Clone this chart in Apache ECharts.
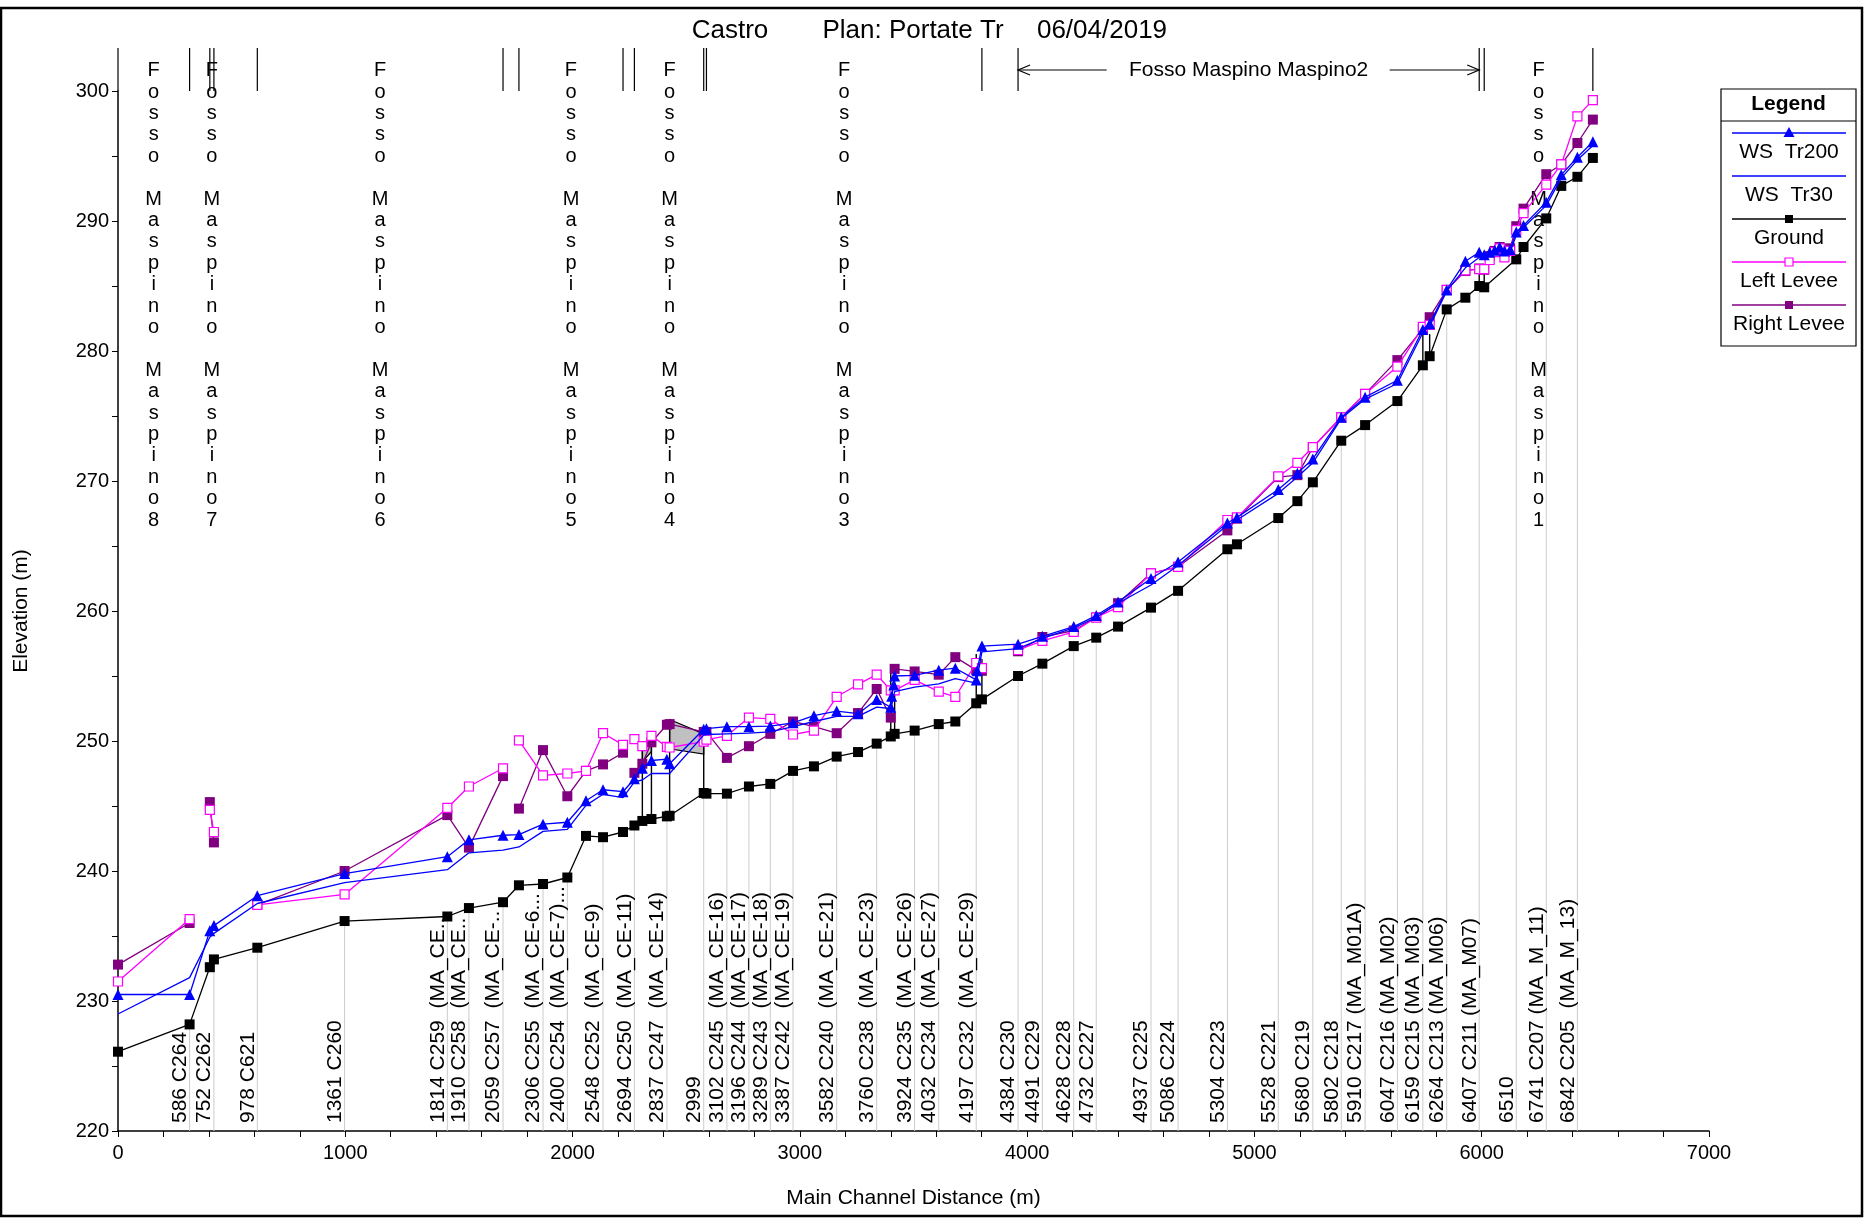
<!DOCTYPE html>
<html>
<head>
<meta charset="utf-8">
<title>Castro - Fosso Maspino</title>
<script src="https://cdn.jsdelivr.net/npm/echarts@6/dist/echarts.min.js"></script>
<style>
html, body { margin: 0; padding: 0; background: #fff; }
#chart { width: 1865px; height: 1224px; }
</style>
</head>
<body>
<div id="chart"></div>
<script>
// main channel distance of every cross section (m)
var stations = [0, 315, 404, 422, 613, 997, 1449, 1544, 1694, 1764, 1870, 1977, 2059, 2134, 2222,
  2272, 2307, 2347, 2415, 2427, 2577, 2589, 2679, 2776, 2870, 2970, 3062, 3162, 3256, 3338,
  3400, 3404, 3413, 3417, 3505, 3611, 3684, 3776, 3780, 3801, 3960, 4067, 4205, 4304, 4400,
  4545, 4664, 4881, 4923, 5105, 5189, 5257, 5382, 5487, 5629, 5741, 5771, 5846, 5928, 5989,
  6011, 6035, 6057, 6079, 6100, 6125, 6152, 6184, 6284, 6350, 6421, 6489];
// reach number (Fosso Maspino MaspinoN) of each section
var reach = [8, 8, 7, 7, 6, 6, 6, 6, 6, 5, 5, 5, 5, 5, 5,
  4, 4, 4, 4, 4, 4, 3, 3, 3, 3, 3, 3, 3, 3, 3,
  3, 3, 3, 3, 3, 3, 3, 3, 3, 3, 2, 2, 2, 2, 2,
  2, 2, 2, 2, 2, 2, 2, 2, 2, 2, 2, 2, 2, 2, 2,
  1, 1, 1, 1, 1, 1, 1, 1, 1, 1, 1, 1];
var ground = [226.1, 228.2, 232.6, 233.2, 234.1, 236.15, 236.5, 237.15, 237.6, 238.9, 239.0, 239.5, 242.7, 242.6, 243.0,
  243.5, 243.85, 244.0, 244.2, 244.25, 246.0, 245.95, 245.95, 246.5, 246.7, 247.7, 248.05, 248.8, 249.15, 249.8,
  250.35, null, null, 250.55, 250.8, 251.3, 251.5, 252.9, null, 253.2, 255.0, 255.95, 257.3, 257.95, 258.8,
  260.26, 261.55, 264.75, 265.13, 267.15, 268.45, 269.9, 273.1, 274.3, 276.15, 278.9, 279.6, 283.2, 284.1, 285.0,
  284.9, null, null, null, null, null, 287.05, 288.0, 290.2, 292.7, 293.4, 294.85];
var wsTr200 = [230.5, 230.5, 235.4, 235.8, 238.1, 239.8, 241.1, 242.4, 242.75, 242.8, 243.6, 243.75, 245.4, 246.25, 246.1,
  247.1, 247.9, 248.5, 248.6, 248.25, 250.9, 250.95, 251.1, 251.1, 251.15, 251.4, 251.95, 252.3, 252.1, 253.2,
  252.6, 253.45, 254.3, 255.0, 255.05, 255.45, 255.6, 254.7, 255.4, 257.3, 257.45, 258.05, 258.8, 259.65, 260.7,
  262.5, 263.77, 266.77, 267.2, 269.35, 270.6, 271.7, 274.9, 276.45, 277.75, 281.65, 282.1, 284.7, 286.9, 287.6,
  287.4, 287.6, 287.75, 288.0, 287.7, 287.8, 289.15, 289.65, 291.45, 293.55, 294.9, 296.1];
var wsTr30 = [229.0, 231.8, 234.9, 235.2, 237.5, 239.1, 240.1, 241.4, 241.6, 241.85, 243.05, 243.2, 245.05, 245.9, 245.65,
  246.85, 247.0, 247.5, 247.5, 247.5, 250.45, 250.5, 250.55, 250.6, 250.7, 251.1, 251.5, 251.9, 251.9, 252.6,
  252.5, null, null, 253.8, 254.15, 254.4, 254.8, 254.45, null, 256.85, 257.1, 257.9, 258.7, 259.5, 260.6,
  262.0, 263.5, 266.6, 267.0, 269.05, 270.3, 271.4, 274.8, 276.3, 277.5, 281.4, 281.9, 284.6, 286.4, 287.2,
  287.1, 287.3, 287.5, 287.8, 287.5, 287.6, 288.9, 289.5, 291.2, 293.3, 294.7, 295.8];
var leftLevee = [231.5, 236.3, 244.7, 243.0, 237.4, 238.2, 244.85, 246.5, 247.9, 250.05, 247.35, 247.5, 247.7, 250.6, 249.7,
  250.15, 249.6, 250.4, 249.55, 249.5, 249.95, 250.1, 250.4, 251.8, 251.7, 250.5, 250.8, 253.4, 254.35, 255.1,
  253.9, null, null, 253.9, 254.7, 253.8, 253.4, 256.0, null, 255.6, 257.0, 257.7, 258.4, 259.5, 260.3,
  262.9, 263.4, 267.0, 267.2, 270.35, 271.4, 272.6, 274.9, 276.7, 278.8, 281.85, 282.0, 284.7, 286.2, 286.3,
  286.3, 287.0, 287.6, 287.9, 287.2, 287.7, 289.3, 290.6, 292.8, 294.35, 298.05, 299.3];
var rightLevee = [232.8, 236.0, 245.3, 242.2, 237.4, 240.0, 244.3, 241.8, 247.3, 244.8, 249.3, 245.75, 247.7, 248.2, 249.1,
  247.55, 248.25, 249.9, 251.25, 251.3, 250.7, 250.7, 248.7, 249.6, 250.55, 251.5, 251.1, 250.6, 252.15, 254.0,
  251.8, null, null, 255.55, 255.35, 255.1, 256.45, 255.45, null, 255.4, 256.9, 258.0, 258.5, 259.5, 260.6,
  262.9, 263.4, 266.2, 267.1, 270.3, 270.45, 272.6, 274.9, 276.7, 279.3, 281.7, 282.6, 284.7, 286.15, 286.35,
  286.25, 287.3, 287.7, 288.0, 287.6, 287.9, 289.6, 290.95, 293.6, 294.35, 296.0, 297.8];
// river station labels written at the bottom ('' = not labelled)
var xsLabels = ['', '586 C264', '', '752 C262', '978 C621', '1361 C260', '1814 C259  (MA_CE..', '1910 C258  (MA_CE..',
  '2059 C257  (MA_CE-..', '', '2306 C255  (MA_CE-6...', '2400 C254  (MA_CE-7)...', '', '2548 C252  (MA_CE-9)', '',
  '2694 C250  (MA_CE-11)', '', '', '2837 C247  (MA_CE-14)', '', '2999', '', '3102 C245  (MA_CE-16)',
  '3196 C244  (MA_CE-17)', '3289 C243  (MA_CE-18)', '3387 C242  (MA_CE-19)', '', '3582 C240  (MA_CE-21)', '',
  '3760 C238  (MA_CE-23)', '', '', '', '', '3924 C235  (MA_CE-26)', '4032 C234  (MA_CE-27)', '',
  '4197 C232  (MA_CE-29)', '', '', '4384 C230', '4491 C229', '4628 C228', '4732 C227', '',
  '4937 C225', '5086 C224', '5304 C223', '', '5528 C221', '', '5680 C219', '5802 C218', '5910 C217 (MA_M01A)',
  '6047 C216 (MA_M02)', '6159 C215 (MA_M03)', '', '6264 C213 (MA_M06)', '', '6407 C211 (MA_M07)',
  '', '', '', '', '', '', '6510', '', '6741 C207 (MA_M_11)', '', '6842 C205  (MA_M_13)', ''];

// reach names and where they are written
var reachNames = ['Fosso Maspino Maspino8', 'Fosso Maspino Maspino7', 'Fosso Maspino Maspino6',
  'Fosso Maspino Maspino5', 'Fosso Maspino Maspino4', 'Fosso Maspino Maspino3', 'Fosso Maspino Maspino1'];
var reachNameX = [157, 413, 1153, 1993, 2427, 3195, 6250];
var reach2Name = 'Fosso Maspino Maspino2';
var reach2Span = [3960, 5989];
// reach limits marked above the plot
var reachLimits = [0, 315, 404, 422, 613, 1694, 1764, 2222, 2272, 2577, 2589, 3801, 3960, 5989, 6011, 6489];
// bridge faces: [station, top elevation]
var bridgeFaces = [[2307, 249.6], [2347, 250.1], [2427, 251.65], [2577, 250.4], [3400, 255.8], [3417, 255.8],
  [3776, 256.7], [3801, 256.3], [5741, 281.3], [5771, 281.3], [5989, 286.2], [6011, 286.2]];
// bridge decks: corner points [station, elevation]
var deckSmall = [[2307, 249.7], [2347, 250.2], [2347, 249.2], [2307, 248.4]];
var deckLarge = [[2427, 251.65], [2577, 250.55], [2577, 249.0], [2427, 249.4]];

var FONT = '"Liberation Sans", Arial, sans-serif';

function pairs(vals) {
  var out = [];
  for (var i = 0; i < stations.length; i++) {
    if (vals[i] != null) out.push([stations[i], vals[i]]);
  }
  return out;
}
// levees are drawn per reach: break the line between reaches
function leveePairs(vals) {
  var out = [], last = null;
  for (var i = 0; i < stations.length; i++) {
    if (vals[i] == null) continue;
    if (last != null && reach[i] != last) out.push([stations[i], '-']);
    out.push([stations[i], vals[i]]);
    last = reach[i];
  }
  return out;
}
function groundAt(x) {
  return ground[stations.indexOf(x)];
}

var labelData = [];
for (var i = 0; i < stations.length; i++) {
  if (xsLabels[i]) labelData.push([stations[i], ground[i], xsLabels[i]]);
}

var chart = echarts.init(document.getElementById('chart'));

var legendItems = [
  { name: 'WS  Tr200', color: '#0000ff', mark: 'triangle' },
  { name: 'WS  Tr30', color: '#0000ff', mark: null },
  { name: 'Ground', color: '#000000', mark: 'rect' },
  { name: 'Left Levee', color: '#ff00ff', mark: 'empty' },
  { name: 'Right Levee', color: '#800080', mark: 'rect' }
];
var graphics = [
  { type: 'rect', shape: { x: 1, y: 8, width: 1861, height: 1208 }, style: { fill: 'none', stroke: '#000', lineWidth: 2.5 }, z: 100 },
  { type: 'text', x: 730, y: 31, style: { text: 'Castro', font: '26px ' + FONT, fill: '#000', align: 'center', verticalAlign: 'middle' } },
  { type: 'text', x: 913, y: 31, style: { text: 'Plan: Portate Tr', font: '26px ' + FONT, fill: '#000', align: 'center', verticalAlign: 'middle' } },
  { type: 'text', x: 1102, y: 31, style: { text: '06/04/2019', font: '26px ' + FONT, fill: '#000', align: 'center', verticalAlign: 'middle' } },
  { type: 'rect', shape: { x: 1721, y: 89, width: 135, height: 257 }, style: { fill: '#fff', stroke: '#000', lineWidth: 1.2 } },
  { type: 'line', shape: { x1: 1721, y1: 121, x2: 1856, y2: 121 }, style: { stroke: '#000', lineWidth: 1.2 } },
  { type: 'text', x: 1788.5, y: 104, style: { text: 'Legend', font: 'bold 21px ' + FONT, fill: '#000', align: 'center', verticalAlign: 'middle' } }
];
legendItems.forEach(function (it, k) {
  var ly = 133 + 43 * k;
  graphics.push({ type: 'line', shape: { x1: 1732, y1: ly, x2: 1846, y2: ly }, style: { stroke: it.color, lineWidth: 1.3 } });
  if (it.mark === 'triangle') {
    graphics.push({ type: 'polygon', shape: { points: [[1789, ly - 6], [1783.5, ly + 4], [1794.5, ly + 4]] }, style: { fill: it.color } });
  } else if (it.mark === 'rect') {
    graphics.push({ type: 'rect', shape: { x: 1785, y: ly - 4, width: 8, height: 8 }, style: { fill: it.color } });
  } else if (it.mark === 'empty') {
    graphics.push({ type: 'rect', shape: { x: 1785, y: ly - 4, width: 8, height: 8 }, style: { fill: '#fff', stroke: it.color, lineWidth: 1.2 } });
  }
  graphics.push({ type: 'text', x: 1789, y: 152 + 43 * k, style: { text: it.name, font: '21px ' + FONT, fill: '#000', align: 'center', verticalAlign: 'middle' } });
});

var option = {
  animation: false,
  backgroundColor: '#fff',
  textStyle: { fontFamily: FONT, color: '#000' },
  grid: { left: 118, right: 156, top: 91, bottom: 93, containLabel: false, outerBoundsMode: 'none' },
  xAxis: {
    type: 'value', min: 0, max: 7000, interval: 1000,
    name: 'Main Channel Distance (m)', nameLocation: 'middle', nameGap: 57,
    nameTextStyle: { fontSize: 21, color: '#000', fontFamily: FONT },
    axisLine: { lineStyle: { color: '#000', width: 1.5 } },
    axisTick: { length: 6, lineStyle: { color: '#000' } },
    minorTick: { show: true, splitNumber: 5, length: 6, lineStyle: { color: '#000' } },
    axisLabel: { fontSize: 20, color: '#000', margin: 12, fontFamily: FONT, formatter: function (v) { return String(v); } },
    splitLine: { show: false }
  },
  yAxis: {
    type: 'value', min: 220, max: 300, interval: 10,
    name: 'Elevation (m)', nameLocation: 'middle', nameGap: 86,
    nameTextStyle: { fontSize: 21, color: '#000', fontFamily: FONT },
    axisLine: { show: true, lineStyle: { color: '#000', width: 1.5 } },
    axisTick: { show: true, length: 6, lineStyle: { color: '#000' } },
    minorTick: { show: true, splitNumber: 2, length: 6, lineStyle: { color: '#000' } },
    axisLabel: { fontSize: 20, color: '#000', margin: 9, fontFamily: FONT, formatter: function (v) { return String(v); } },
    splitLine: { show: false }
  },
  graphic: graphics,
  series: [
    {
      // station labels and the grey lines down from the ground
      type: 'custom', name: 'xs', silent: true, z: 1,
      data: labelData,
      encode: { x: 0, y: 1 },
      renderItem: function (params, api) {
        var x = api.value(0);
        var top = api.coord([x, api.value(1)]);
        var base = api.coord([x, 220]);
        return {
          type: 'group', children: [
            { type: 'line', shape: { x1: top[0], y1: top[1], x2: base[0], y2: base[1] }, style: { stroke: '#cccccc', lineWidth: 1 } },
            { type: 'text', x: base[0] + 1, y: base[1] - 8, rotation: Math.PI / 2,
              style: { text: labelData[params.dataIndex][2], x: 0, y: 0, align: 'left', verticalAlign: 'bottom', font: '21px ' + FONT, fill: '#000' } }
          ]
        };
      }
    },
    {
      // reach limits above the plot
      type: 'custom', name: 'limits', silent: true, clip: false, z: 2,
      data: reachLimits.map(function (x) { return [x, 300]; }),
      encode: { x: 0, y: 1 },
      renderItem: function (params, api) {
        var p = api.coord([api.value(0), 300]);
        return { type: 'line', shape: { x1: p[0], y1: p[1], x2: p[0], y2: p[1] - 43 }, style: { stroke: '#000', lineWidth: 1.2 } };
      }
    },
    {
      // vertical reach names
      type: 'custom', name: 'reaches', silent: true, clip: false, z: 2,
      data: reachNameX.map(function (x) { return [x, 300]; }),
      encode: { x: 0, y: 1 },
      renderItem: function (params, api) {
        var p = api.coord([api.value(0), 300]);
        var txt = reachNames[params.dataIndex].split('').join('\n');
        return { type: 'text', x: p[0], y: p[1] - 31,
          style: { text: txt, align: 'center', verticalAlign: 'top', lineHeight: 21.4, font: '20px ' + FONT, fill: '#000' } };
      }
    },
    {
      // reach 2 name with arrows
      type: 'custom', name: 'reach2', silent: true, clip: false, z: 2,
      data: [[reach2Span[0], reach2Span[1], 300]],
      encode: { x: [0, 1], y: 2 },
      renderItem: function (params, api) {
        var a = api.coord([api.value(0), 300]);
        var b = api.coord([api.value(1), 300]);
        var y = a[1] - 21;
        var cx = (a[0] + b[0]) / 2;
        var st = { stroke: '#000', lineWidth: 1.2, fill: 'none' };
        return {
          type: 'group', children: [
            { type: 'line', shape: { x1: a[0], y1: y, x2: cx - 142, y2: y }, style: st },
            { type: 'polyline', shape: { points: [[a[0] + 12, y - 5], [a[0], y], [a[0] + 12, y + 5]] }, style: st },
            { type: 'line', shape: { x1: cx + 141, y1: y, x2: b[0], y2: y }, style: st },
            { type: 'polyline', shape: { points: [[b[0] - 12, y - 5], [b[0], y], [b[0] - 12, y + 5]] }, style: st },
            { type: 'text', x: cx, y: y, style: { text: reach2Name, align: 'center', verticalAlign: 'middle', font: '21px ' + FONT, fill: '#000' } }
          ]
        };
      }
    },
    {
      // bridge decks
      type: 'custom', name: 'decks', silent: true, z: 3,
      data: [[2307, 250], [2427, 250]],
      encode: { x: 0, y: 1 },
      renderItem: function (params, api) {
        var deck = params.dataIndex === 0 ? deckSmall : deckLarge;
        var pts = deck.map(function (d) { return api.coord(d); });
        return { type: 'polygon', shape: { points: pts }, style: { fill: '#c0c0c0', stroke: '#000', lineWidth: 1.2 } };
      }
    },
    {
      // bridge faces
      type: 'custom', name: 'faces', silent: true, z: 3,
      data: bridgeFaces.map(function (b) { return [b[0], b[1], groundAt(b[0])]; }),
      encode: { x: 0, y: [1, 2] },
      renderItem: function (params, api) {
        var t = api.coord([api.value(0), api.value(1)]);
        var g = api.coord([api.value(0), api.value(2)]);
        return { type: 'line', shape: { x1: t[0], y1: t[1], x2: g[0], y2: g[1] }, style: { stroke: '#000', lineWidth: 1.4 } };
      }
    },
    {
      name: 'Ground', type: 'line', data: pairs(ground), z: 4,
      symbol: 'rect', symbolSize: 10,
      lineStyle: { color: '#000', width: 1.3 }, itemStyle: { color: '#000' }
    },
    {
      name: 'Right Levee', type: 'line', data: leveePairs(rightLevee), z: 5, connectNulls: false,
      symbol: 'rect', symbolSize: 10,
      lineStyle: { color: '#800080', width: 1.3 }, itemStyle: { color: '#800080' }
    },
    {
      name: 'Left Levee', type: 'line', data: leveePairs(leftLevee), z: 6, connectNulls: false,
      symbol: 'rect', symbolSize: 9,
      lineStyle: { color: '#ff00ff', width: 1.3 }, itemStyle: { color: '#ffffff', borderColor: '#ff00ff', borderWidth: 1.2 }
    },
    {
      name: 'WS  Tr30', type: 'line', data: pairs(wsTr30), z: 7,
      symbol: 'none',
      lineStyle: { color: '#0000ff', width: 1.3 }
    },
    {
      name: 'WS  Tr200', type: 'line', data: pairs(wsTr200), z: 8,
      symbol: 'triangle', symbolSize: 11,
      lineStyle: { color: '#0000ff', width: 1.3 }, itemStyle: { color: '#0000ff' }
    }
  ]
};
chart.setOption(option);
</script>
</body>
</html>
